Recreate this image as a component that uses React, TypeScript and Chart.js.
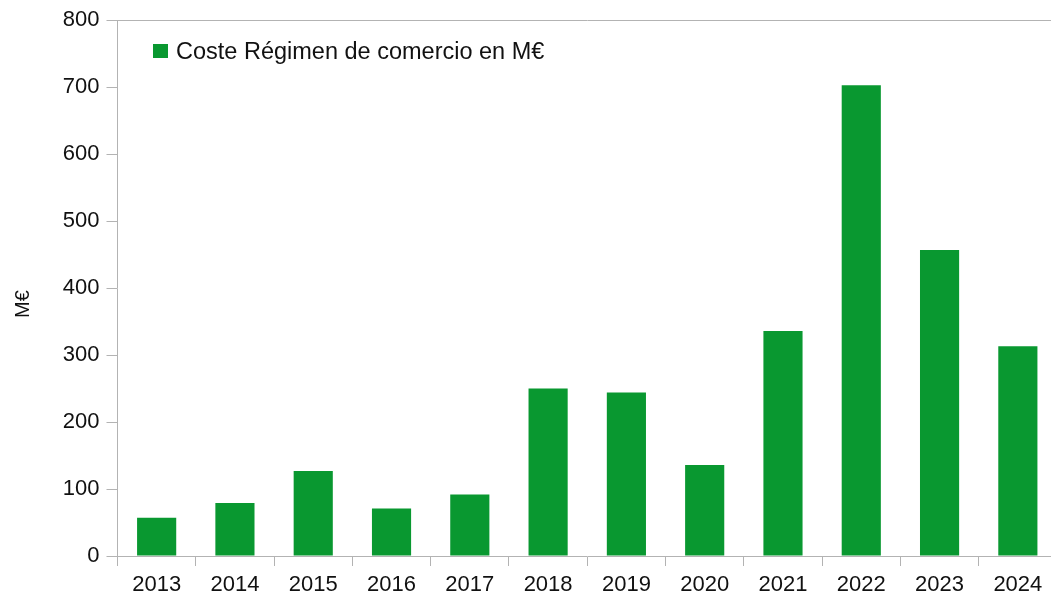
import React, { useEffect, useRef } from "react";
import { Chart, registerables } from "chart.js";

Chart.register(...registerables);

const years = ["2013", "2014", "2015", "2016", "2017", "2018", "2019", "2020", "2021", "2022", "2023", "2024"];
const coste = [57, 79, 127, 71, 92, 250, 244, 136, 336, 703, 457, 313];
const seriesLabel = "Coste Régimen de comercio en M€";
const yTitle = "M€";

const GREEN = "#099830";
const AXIS = "#b3b3b3";
const TEXT = "#111111";
const FONT = "'Liberation Sans', Arial, sans-serif";

export default function App() {
  const ref = useRef<HTMLCanvasElement | null>(null);

  useEffect(() => {
    document.body.style.margin = "0";
    const canvas = ref.current;
    if (!canvas) return;

    const overlay = {
      id: "overlay",
      afterDraw(chart: any) {
        const ctx = chart.ctx;
        ctx.save();
        // legend
        ctx.fillStyle = GREEN;
        ctx.fillRect(153, 44, 15, 14);
        ctx.fillStyle = TEXT;
        ctx.font = `23.5px ${FONT}`;
        ctx.textAlign = "left";
        ctx.textBaseline = "alphabetic";
        ctx.fillText(seriesLabel, 176, 59);
        // y title
        ctx.translate(23, 304);
        ctx.rotate(-Math.PI / 2);
        ctx.font = `20px ${FONT}`;
        ctx.textAlign = "center";
        ctx.textBaseline = "middle";
        ctx.fillText(yTitle, 0, 0);
        ctx.restore();
      },
    };

    const chart = new Chart(canvas, {
      type: "bar",
      data: {
        labels: years,
        datasets: [
          {
            label: seriesLabel,
            data: coste,
            backgroundColor: GREEN,
            borderWidth: 0,
            barPercentage: 0.5,
            categoryPercentage: 1,
          },
        ],
      },
      options: {
        animation: false,
        responsive: false,
        maintainAspectRatio: false,
        layout: { padding: { top: 20, right: 3, left: 0, bottom: 0 } },
        plugins: {
          legend: { display: false },
          tooltip: { enabled: false },
        },
        scales: {
          x: {
            offset: true,
            grid: {
              offset: true,
              drawOnChartArea: false,
              drawTicks: true,
              tickLength: 10,
              tickColor: AXIS,
              color: AXIS,
            },
            border: { color: AXIS, width: 1 },
            ticks: {
              color: TEXT,
              font: { family: FONT, size: 22 },
              padding: 6,
              maxRotation: 0,
            },
            afterFit: (s: any) => {
              s.height = 46;
            },
          },
          y: {
            min: 0,
            max: 800,
            grid: {
              drawTicks: true,
              tickLength: 11,
              tickColor: AXIS,
              color: (c: any) => (c.tick && c.tick.value === 800 ? AXIS : "rgba(0,0,0,0)"),
            },
            border: { color: AXIS, width: 1 },
            ticks: {
              stepSize: 100,
              color: TEXT,
              font: { family: FONT, size: 22 },
              padding: 7,
            },
            afterFit: (s: any) => {
              s.width = 117.5;
            },
          },
        },
      },
      plugins: [overlay],
    });

    return () => chart.destroy();
  }, []);

  return (
    <div style={{ width: 1051, height: 602, overflow: "hidden", position: "relative", background: "#fff" }}>
      <canvas ref={ref} width={1060} height={602} style={{ display: "block" }} />
    </div>
  );
}
